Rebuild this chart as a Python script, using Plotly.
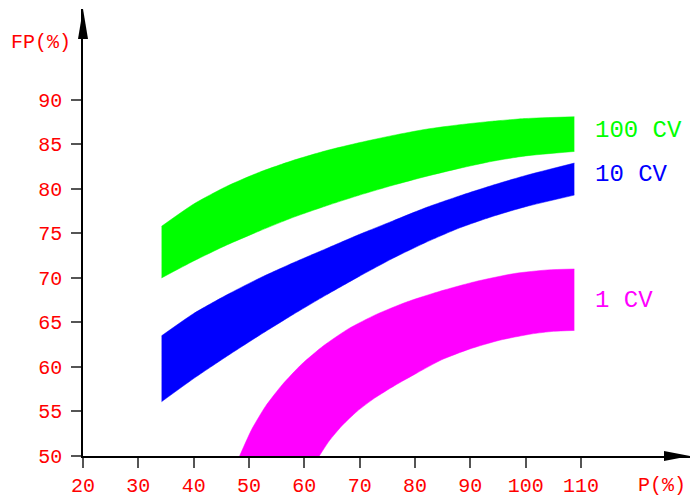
import plotly.graph_objects as go

# Power P(%) sample points for the 100 CV and 10 CV bands
p_hi = [34.2, 40, 46, 52, 58, 64, 70, 76, 82, 88, 94, 100, 108.8]
# 100 CV band limits, FP(%)
fp100_top = [75.8, 78.3, 80.3, 81.9, 83.2, 84.3, 85.2, 86.0, 86.7, 87.2, 87.6, 87.9, 88.1]
fp100_bot = [70.0, 71.9, 73.7, 75.3, 76.8, 78.1, 79.3, 80.4, 81.4, 82.3, 83.1, 83.7, 84.2]
# 10 CV band limits, FP(%)
fp10_top = [63.5, 66.0, 68.1, 70.0, 71.7, 73.3, 74.9, 76.4, 77.9, 79.2, 80.4, 81.5, 82.9]
fp10_bot = [56.1, 58.7, 61.2, 63.6, 65.9, 68.1, 70.2, 72.2, 74.0, 75.6, 76.9, 78.0, 79.3]
# 1 CV band limits
p1_top = [48.3, 50.5, 53, 56, 59.5, 63.5, 68, 73, 78.5, 84.5, 91, 98, 104, 108.8]
fp1_top = [50.0, 53.0, 55.6, 58.0, 60.3, 62.4, 64.3, 65.9, 67.3, 68.5, 69.6, 70.5, 70.9, 71.0]
p1_bot = [62.7, 64.5, 66.8, 69.5, 72.7, 76.3, 80.3, 84.8, 89.8, 95.3, 101, 105, 108.8]
fp1_bot = [50.0, 51.7, 53.4, 55.0, 56.5, 57.9, 59.3, 60.8, 62.0, 63.0, 63.7, 64.0, 64.1]

x_ticks = [20, 30, 40, 50, 60, 70, 80, 90, 100, 110]
y_ticks = [50, 55, 60, 65, 70, 75, 80, 85, 90]

band_labels = ["100 CV", "10 CV", "1 CV"]
band_label_fp = [86.5, 81.6, 67.5]
band_colors = ["#00ff00", "#0000ff", "#ff00ff"]

W, H = 690, 497
ML, MR, MT, MB = 83, 0, 9, 41
X_RANGE = [20, 129.7]
Y_RANGE = [50, 100.2]
FONT = "Liberation Mono"
RED = "#ff0000"

fig = go.Figure()

bands = [
    (p_hi, fp100_bot, p_hi, fp100_top),
    (p_hi, fp10_bot, p_hi, fp10_top),
    (p1_bot, fp1_bot, p1_top, fp1_top),
]
for (xb, yb, xt, yt), col in zip(bands, band_colors):
    fig.add_trace(go.Scatter(x=xb, y=yb, mode="lines",
                             line=dict(color=col, width=0.5, shape="spline", smoothing=0.6),
                             hoverinfo="skip", showlegend=False))
    fig.add_trace(go.Scatter(x=xt, y=yt, mode="lines", fill="tonexty", fillcolor=col,
                             line=dict(color=col, width=0.5, shape="spline", smoothing=0.6),
                             hoverinfo="skip", showlegend=False))

# band names to the right of the bands
for txt, fp, col in zip(band_labels, band_label_fp, band_colors):
    fig.add_annotation(x=112.1, y=fp, text=txt, showarrow=False, xanchor="left",
                       yanchor="middle", font=dict(family=FONT, size=24, color=col))

# arrowheads at the ends of both axes (paper coordinates, sized in pixels)
pw = W - ML - MR
ph = H - MT - MB
def fx(px):
    return px / pw
def fy(px):
    return px / ph

fig.add_shape(type="path", xref="paper", yref="paper", fillcolor="black", line=dict(width=0),
              path=f"M 0 1 L {-fx(5)} {1 - fy(30)} L {fx(5)} {1 - fy(30)} Z")
fig.add_shape(type="path", xref="paper", yref="paper", fillcolor="black", line=dict(width=0),
              path=f"M 1 0 L {1 - fx(26)} {fy(5)} L {1 - fx(26)} {-fy(5)} Z")

fig.add_annotation(xref="paper", yref="paper", x=fx(73 - ML), y=fy(H - MB - 42),
                   text="FP(%)", showarrow=False, xanchor="right", yanchor="middle",
                   font=dict(family=FONT, size=20, color=RED))
fig.add_annotation(xref="paper", yref="paper", x=fx(688 - ML), y=-fy(485 - (H - MB)),
                   text="P(%)", showarrow=False, xanchor="right", yanchor="middle",
                   font=dict(family=FONT, size=20, color=RED))

axis_common = dict(showgrid=False, zeroline=False, showline=True, linecolor="black",
                   linewidth=1.5, ticks="outside", ticklen=10, tickwidth=1.5,
                   tickcolor="#555555", tickfont=dict(family=FONT, size=20, color=RED))
fig.update_xaxes(range=X_RANGE, tickvals=x_ticks, ticktext=[str(v) for v in x_ticks],
                 **axis_common)
fig.update_yaxes(range=Y_RANGE, tickvals=y_ticks, ticktext=[str(v) for v in y_ticks],
                 ticklabelstandoff=5, **axis_common)

fig.update_layout(width=W, height=H, margin=dict(l=ML, r=MR, t=MT, b=MB),
                  plot_bgcolor="white", paper_bgcolor="white")

fig.write_html("out.html")
